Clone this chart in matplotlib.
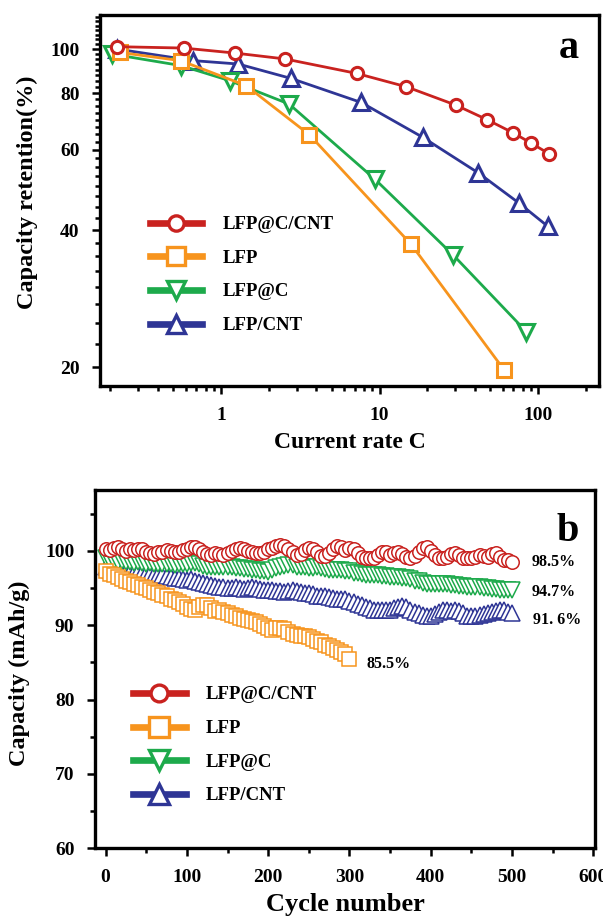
import numpy as np
import matplotlib.pyplot as plt
from matplotlib.lines import Line2D
from matplotlib.ticker import FixedLocator, NullFormatter, LogLocator

plt.rcParams['font.family'] = ['Liberation Serif', 'DejaVu Serif']
plt.rcParams['font.weight'] = 'bold'
plt.rcParams['axes.labelweight'] = 'bold'

labels = ['LFP@C/CNT', 'LFP', 'LFP@C', 'LFP/CNT']
colors = ['#c9221f', '#f7941d', '#1daa4b', '#2e3595']
markers = ['o', 's', 'v', '^']

# (a) rate capability: C-rate vs capacity retention (%)
rate_cnt = [0.22, 0.58, 1.22, 2.54, 7.17, 14.8, 30.3, 47.9, 69.9, 89.9, 118]
ret_cnt = [101.2, 100.5, 98.0, 95.1, 88.4, 82.6, 75.3, 69.9, 65.4, 62.2, 58.8]
rate_lfp = [0.23, 0.556, 1.44, 3.61, 15.85, 61.2]
ret_lfp = [98.3, 94.3, 83.1, 64.8, 37.2, 19.7]
rate_c = [0.204, 0.556, 1.137, 2.69, 9.33, 29.3, 84.6]
ret_c = [97.5, 92.0, 85.2, 75.7, 51.8, 35.2, 23.9]
rate_lfpcnt = [0.22, 0.67, 1.285, 2.76, 7.67, 18.7, 42.1, 75.6, 115]
ret_lfpcnt = [100.0, 94.3, 92.7, 86.2, 76.3, 64.0, 53.4, 45.9, 40.8]

# (b) cycling, one point every 5 cycles
cyc_500 = np.arange(0, 501, 5)
cyc_300 = np.arange(0, 301, 5)
cap_cnt = [100.2, 100.1, 100.4, 100.5, 100.2, 100.0, 100.3, 100.1, 100.3, 100.2,
           99.9, 99.7, 99.6, 99.8, 99.9, 100.1, 100.0, 99.8, 99.9, 100.1,
           100.3, 100.5, 100.5, 100.2, 99.9, 99.6, 99.5, 99.7, 99.6, 99.4,
           99.7, 100.0, 100.3, 100.4, 100.2, 100.0, 99.8, 99.7, 99.7, 99.9,
           100.2, 100.4, 100.6, 100.8, 100.7, 100.3, 99.8, 99.4, 99.6, 100.1,
           100.4, 100.3, 99.8, 99.3, 99.3, 99.7, 100.2, 100.6, 100.5, 100.1,
           100.4, 100.2, 99.7, 99.2, 99.0, 99.0, 99.1, 99.5, 99.9, 99.8,
           99.5, 99.7, 99.9, 99.6, 99.2, 99.0, 99.3, 99.9, 100.4, 100.5,
           100.0, 99.5, 99.1, 99.0, 99.2, 99.6, 99.7, 99.5, 99.1, 99.0,
           99.0, 99.2, 99.5, 99.3, 99.2, 99.6, 99.7, 99.2, 98.8, 98.8,
           98.5]
cap_lfp = [97.3, 96.9, 96.7, 96.5, 96.2, 96.0, 95.8, 95.6, 95.4, 95.2,
           95.0, 94.8, 94.5, 94.3, 94.1, 93.9, 93.6, 93.4, 93.1, 92.8,
           92.5, 92.2, 92.0, 92.4, 92.7, 92.7, 92.3, 91.9, 92.0, 91.8,
           91.6, 91.4, 91.2, 91.0, 90.9, 90.7, 90.6, 90.4, 90.2, 89.9,
           89.6, 89.3, 89.6, 89.7, 89.5, 89.1, 88.8, 88.7, 88.6, 88.5,
           88.4, 88.2, 87.9, 87.7, 87.4, 87.2, 86.9, 86.7, 86.4, 86.1,
           85.5]
cap_c = [99.0, 98.7, 98.6, 98.5, 98.6, 98.5, 98.5, 98.4, 98.5, 98.4,
         98.3, 98.4, 98.3, 98.2, 98.2, 98.3, 98.2, 98.1, 98.2, 98.2,
         98.3, 98.4, 98.4, 98.2, 98.0, 97.9, 97.9, 97.9, 97.9, 97.8,
         97.8, 97.8, 97.7, 97.7, 97.6, 97.6, 97.5, 97.4, 97.3, 97.3,
         97.2, 97.4, 97.7, 97.9, 98.0, 98.1, 98.1, 97.9, 97.8, 97.8,
         97.7, 97.7, 97.8, 97.7, 97.6, 97.5, 97.5, 97.4, 97.4, 97.3,
         97.3, 97.1, 97.0, 96.9, 96.8, 96.8, 96.7, 96.7, 96.6, 96.6,
         96.5, 96.5, 96.5, 96.4, 96.3, 96.2, 96.0, 95.9, 95.7, 95.6,
         95.5, 95.6, 95.6, 95.5, 95.5, 95.4, 95.4, 95.3, 95.3, 95.2,
         95.2, 95.1, 95.1, 95.0, 95.0, 94.9, 94.9, 94.8, 94.8, 94.7,
         94.7]
cap_lfpcnt = [97.9, 97.5, 97.3, 97.2, 97.3, 97.2, 97.2, 97.1, 97.2, 97.0,
              96.9, 96.9, 96.8, 96.7, 96.7, 96.6, 96.5, 96.4, 96.3, 96.2,
              96.1, 96.2, 96.0, 95.8, 95.7, 95.5, 95.4, 95.3, 95.2, 95.1,
              95.0, 95.0, 95.1, 95.0, 94.9, 95.0, 95.1, 95.0, 94.9, 94.8,
              94.7, 94.7, 94.6, 94.6, 94.5, 94.6, 94.7, 94.6, 94.5, 94.4,
              94.3, 94.2, 94.0, 94.0, 93.9, 93.8, 93.7, 93.6, 93.5, 93.5,
              93.3, 93.1, 92.9, 92.7, 92.5, 92.3, 92.1, 92.0, 92.1, 92.0,
              92.1, 92.3, 92.5, 92.6, 92.4, 92.1, 91.8, 91.6, 91.4, 91.3,
              91.3, 91.5, 91.8, 92.0, 92.0, 91.9, 92.0, 91.9, 91.6, 91.3,
              91.2, 91.3, 91.4, 91.5, 91.7, 91.8, 91.9, 92.1, 92.0, 91.8,
              91.6]
end_text = ['98.5%', '85.5%', '94.7%', '91. 6%']

rate_x = [rate_cnt, rate_lfp, rate_c, rate_lfpcnt]
rate_y = [ret_cnt, ret_lfp, ret_c, ret_lfpcnt]
cyc_x = [cyc_500, cyc_300, cyc_500, cyc_500]
cyc_y = [cap_cnt, cap_lfp, cap_c, cap_lfpcnt]

fig = plt.figure(figsize=(6.03, 9.17), dpi=100)
ax1 = fig.add_axes([100 / 603, 1 - 386 / 917, 499 / 603, 371 / 917])
ax2 = fig.add_axes([95 / 603, 1 - 848.3 / 917, 500 / 603, 358.3 / 917])


def style_axes(ax):
    for sp in ax.spines.values():
        sp.set_linewidth(2.4)
    ax.tick_params(which='both', direction='out', width=1.8, labelsize=14,
                   top=False, right=False, pad=9)
    ax.tick_params(which='major', length=5.8)
    ax.tick_params(which='minor', length=3.6)


def legend_handles(ms_scale=1.0):
    hs = []
    for c, m in zip(colors, markers):
        ms = 11 if m == 'o' else 12.5
        hs.append(Line2D([], [], color=c, lw=4.8, marker=m, ms=ms * ms_scale,
                         mew=2.4, mfc='white', mec=c))
    return hs


# (a) rate performance, log-log
order = [3, 2, 1, 0]
for i in order:
    ms = {'o': 8.8, 's': 10, 'v': 11, '^': 11}[markers[i]]
    ax1.plot(rate_x[i], rate_y[i], color=colors[i], lw=2.0, marker=markers[i],
             ms=ms, mew=2.2, mfc='white', mec=colors[i])
ax1.set_xscale('log')
ax1.set_yscale('log')
ax1.set_xlim(0.1724, 242.6)
ax1.set_ylim(18.17, 118.8)
ax1.xaxis.set_major_locator(FixedLocator([1, 10, 100]))
ax1.set_xticklabels(['1', '10', '100'])
ax1.xaxis.set_minor_locator(LogLocator(base=10, subs=np.arange(2, 10)))
ax1.xaxis.set_minor_formatter(NullFormatter())
ax1.yaxis.set_major_locator(FixedLocator([20, 40, 60, 80, 100]))
ax1.set_yticklabels(['20', '40', '60', '80', '100'])
ax1.yaxis.set_minor_locator(FixedLocator(np.arange(20, 120, 2.5)))
ax1.yaxis.set_minor_formatter(NullFormatter())
style_axes(ax1)
ax1.set_xlabel('Current rate C', fontsize=17, va='center')
ax1.xaxis.set_label_coords(0.5, -0.153)
ax1.set_ylabel('Capacity retention(%)', fontsize=17.5, va='center')
ax1.yaxis.set_label_coords(-0.146, 0.522)
ax1.text(0.94, 0.909, 'a', transform=ax1.transAxes, fontsize=29,
         ha='center', va='center')
ax1.legend(legend_handles(), labels, loc='upper left',
           bbox_to_anchor=(0.1, 0.458), frameon=False, borderpad=0,
           borderaxespad=0, handlelength=2.8, handletextpad=1.1,
           labelspacing=0.88, fontsize=13.5)

# (b) cycling stability
text_off = [(14, 0), (12, -4), (14, -1), (15, -5)]
for i in order:
    ms = 9.7 if markers[i] in 'os' else 11
    ax2.plot(cyc_x[i], cyc_y[i], color=colors[i], lw=1.0, marker=markers[i],
             ms=ms, mew=1.1, mfc='white', mec=colors[i])
    ax2.annotate(end_text[i], xy=(cyc_x[i][-1], cyc_y[i][-1]),
                 xytext=text_off[i], textcoords='offset points',
                 fontsize=11.5, ha='left', va='center')
ax2.set_xlim(-13, 602)
ax2.set_ylim(60, 108.2)
ax2.set_xticks(np.arange(0, 601, 100))
ax2.set_xticks(np.arange(50, 600, 100), minor=True)
ax2.set_yticks(np.arange(60, 101, 10))
ax2.set_yticks(np.arange(65, 108, 10), minor=True)
style_axes(ax2)
ax2.set_xlabel('Cycle number', fontsize=19, va='center')
ax2.xaxis.set_label_coords(0.5, -0.158)
ax2.set_ylabel('Capacity (mAh/g)', fontsize=17.5, va='center')
ax2.yaxis.set_label_coords(-0.152, 0.489)
ax2.text(0.946, 0.884, 'b', transform=ax2.transAxes, fontsize=29,
         ha='center', va='center')
ax2.legend(legend_handles(1.1), labels, loc='upper left',
           bbox_to_anchor=(0.076, 0.452), frameon=False, borderpad=0,
           borderaxespad=0, handlelength=2.8, handletextpad=1.1,
           labelspacing=0.88, fontsize=13.5)

fig.savefig('out.png', dpi=100)
